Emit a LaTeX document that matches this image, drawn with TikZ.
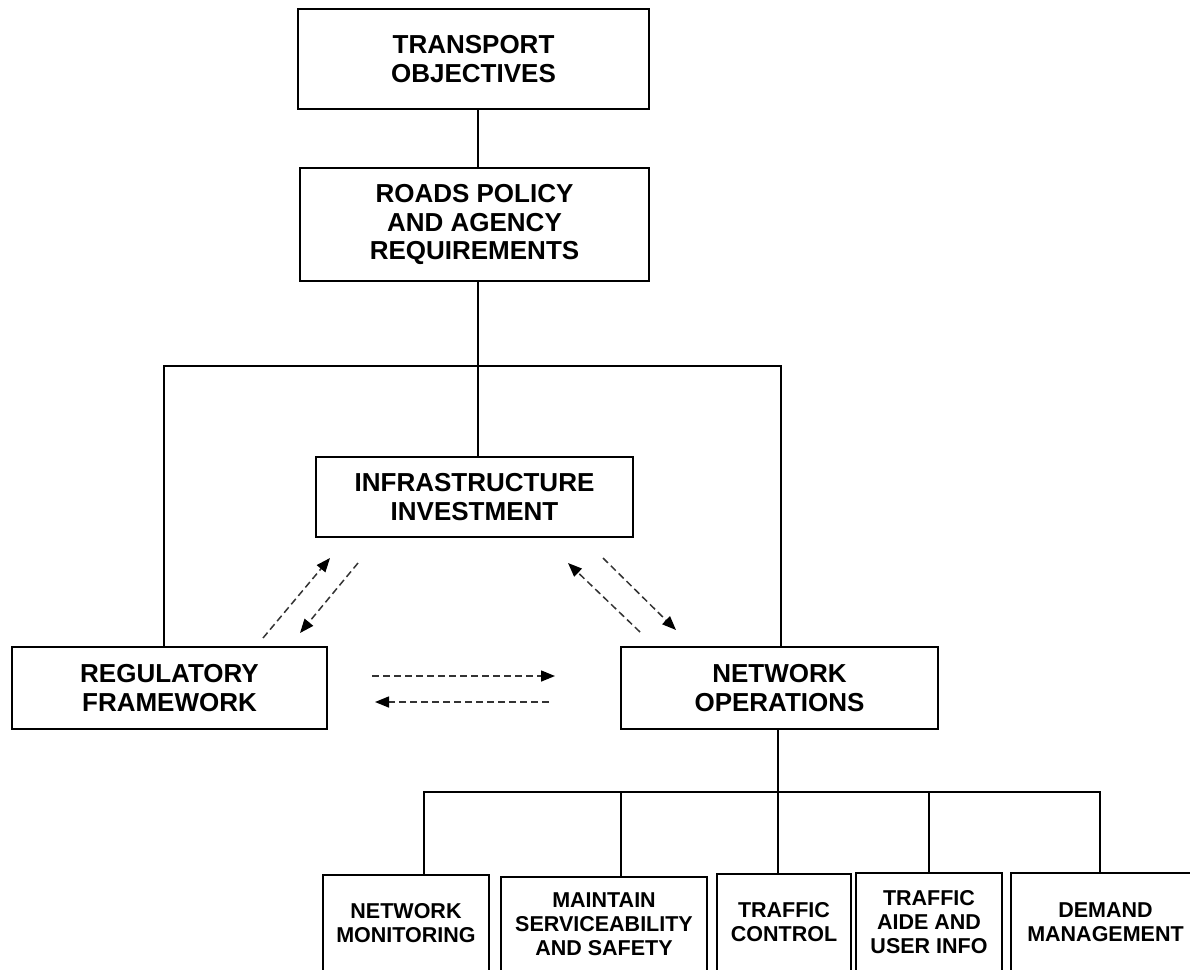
\documentclass[tikz,border=0pt]{standalone}
\usepackage{fontspec}
\setmainfont{Liberation Sans}
\usetikzlibrary{arrows.meta}
\begin{document}
\begin{tikzpicture}[x=1pt,y=-1pt,
  box/.style={draw, line width=1.3pt, rectangle, align=center, inner sep=0pt,
    font=\fontsize{26}{28.5}\selectfont\bfseries},
  smallbox/.style={box, font=\fontsize{21.5}{24}\selectfont\bfseries},
  link/.style={line width=1.3pt},
  flow/.style={line width=1.5pt, dash pattern=on 7pt off 4pt, draw=black!80,
    -{Triangle[length=14pt,width=11pt,fill=black,color=black]}}
]
\useasboundingbox (0,0) rectangle (1190,969);
\clip (0,0) rectangle (1190,969);

% main boxes
\node[box, minimum width=351pt, minimum height=100pt] (top) at (473.5,59) {TRANSPORT\\OBJECTIVES};
\node[box, minimum width=349pt, minimum height=113pt] (roads) at (474.5,224.5) {ROADS POLICY\\AND AGENCY\\REQUIREMENTS};
\node[box, minimum width=317pt, minimum height=80pt] (infra) at (474.5,497) {INFRASTRUCTURE\\INVESTMENT};
\node[box, minimum width=315pt, minimum height=82pt] (reg) at (169.5,688) {REGULATORY\\FRAMEWORK};
\node[box, minimum width=317pt, minimum height=82pt] (netops) at (779.5,688) {NETWORK\\OPERATIONS};

% bottom boxes
\node[smallbox, minimum width=166pt, minimum height=96pt] (nm) at (406,923) {NETWORK\\MONITORING};
\node[smallbox, minimum width=206pt, minimum height=94pt] (ms) at (604,924) {MAINTAIN\\SERVICEABILITY\\AND SAFETY};
\node[smallbox, minimum width=134pt, minimum height=97pt] (tc) at (784,922.5) {TRAFFIC\\CONTROL};
\node[smallbox, minimum width=146pt, minimum height=98pt] (ta) at (929,922) {TRAFFIC\\AIDE AND\\USER INFO};
\node[smallbox, minimum width=189pt, minimum height=98pt] (dm) at (1105.5,922) {DEMAND\\MANAGEMENT};

% tree connectors
\coordinate (spine) at (478,0);
\draw[link] (top.south -| spine) -- (roads.north -| spine);
\draw[link] (roads.south -| spine) -- (infra.north -| spine);
\coordinate (hl) at (164,366);
\coordinate (hr) at (781,366);
\draw[link] (reg.north -| hl) |- (hr) -- (netops.north -| hr);

\coordinate (c3) at (778,792);
\coordinate (bl) at (424,792);
\coordinate (br) at (1100,792);
\coordinate (c2) at (621,792);
\coordinate (c4) at (929,792);
\draw[link] (netops.south -| c3) -- (c3);
\draw[link] (nm.north -| bl) |- (br) -- (dm.north -| br);
\draw[link] (c2) -- (ms.north -| c2);
\draw[link] (c3) -- (tc.north -| c3);
\draw[link] (c4) -- (ta.north -| c4);

% dashed arrows
\coordinate (a1s) at (263,638); \coordinate (a1e) at (330,558);
\coordinate (a2s) at (358,563); \coordinate (a2e) at (300,633);
\coordinate (a3s) at (640,632); \coordinate (a3e) at (568,563);
\coordinate (a4s) at (603,558); \coordinate (a4e) at (676,630);
\coordinate (a5s) at (372,676); \coordinate (a5e) at (555,676);
\coordinate (a6s) at (549,702); \coordinate (a6e) at (375,702);
\draw[flow] (a1s) -- (a1e);
\draw[flow] (a2s) -- (a2e);
\draw[flow] (a3s) -- (a3e);
\draw[flow] (a4s) -- (a4e);
\draw[flow] (a5s) -- (a5e);
\draw[flow] (a6s) -- (a6e);
\end{tikzpicture}
\end{document}
